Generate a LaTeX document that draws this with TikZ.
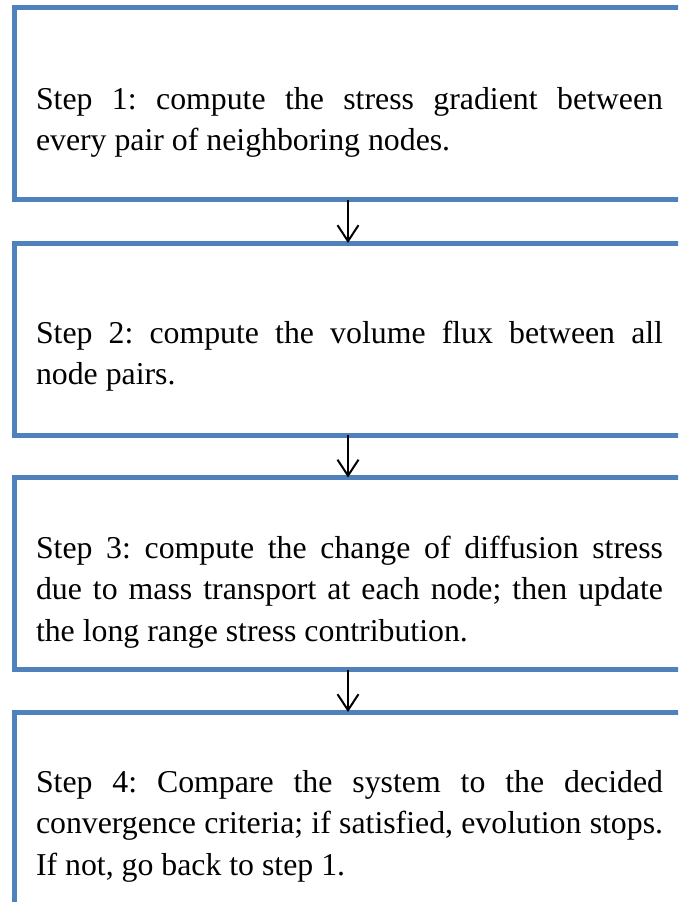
\documentclass[tikz,border=0pt]{standalone}
\usepackage{fontspec}
\setmainfont{Liberation Serif}
\usetikzlibrary{arrows.meta}
\definecolor{boxblue}{HTML}{4F81BD}
\hyphenpenalty=10000
\exhyphenpenalty=10000
\frenchspacing
\tikzset{
  stepbox/.style={draw=boxblue, line width=5pt, rectangle, minimum width=686pt,
    minimum height=192pt, inner sep=0pt, outer sep=0pt, anchor=north west},
  steptext/.style={anchor=base west, inner sep=0pt, outer sep=0pt, text width=627pt,
    align=justify, font=\fontsize{31.8}{41.5}\selectfont},
  flowarrow/.style={draw=black, line width=2pt,
    -{Straight Barb[length=16pt,width=21pt,line width=2pt]}}
}
\begin{document}
\begin{tikzpicture}[x=1pt,y=-1pt]
\useasboundingbox (0,0) rectangle (678,902);
\clip (0,0) rectangle (678,902);
\fill[white] (0,0) rectangle (678,902);
\node[stepbox] (b1) at (14,7.5) {};
\node[stepbox] (b2) at (14,243) {};
\node[stepbox] (b3) at (14,477.5) {};
\node[stepbox] (b4) at (14,712) {};
\coordinate (ax) at (348,0);
\draw[flowarrow] (b1.south -| ax) -- (b2.north -| ax);
\draw[flowarrow] (b2.south -| ax) -- (b3.north -| ax);
\draw[flowarrow] (b3.south -| ax) -- (b4.north -| ax);
\node[steptext] (t1) at (36,109) {\frenchspacing Step 1: compute the stress gradient between\linebreak every pair of neighboring nodes.};
\node[steptext] (t2) at (36,343) {\frenchspacing Step 2: compute the volume flux between all\linebreak node pairs.};
\node[steptext] (t3) at (36,558) {\frenchspacing Step 3: compute the change of diffusion stress\linebreak due to mass transport at each node; then update\linebreak the long range stress contribution.};
\node[steptext] (t4) at (36,792) {\frenchspacing Step 4: Compare the system to the decided\linebreak convergence criteria; if satisfied, evolution stops.\linebreak If not, go back to step 1.};
\end{tikzpicture}
\end{document}
